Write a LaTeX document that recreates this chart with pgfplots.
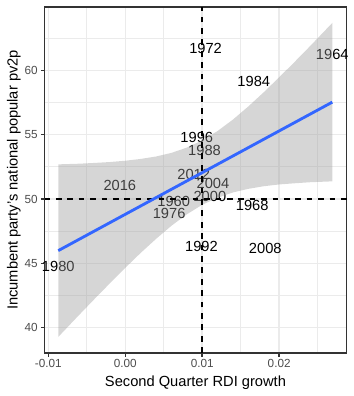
\documentclass[border=0pt]{standalone}
\usepackage{pgfplots}
\pgfplotsset{compat=1.18}
\usepackage{fontspec}
\setmainfont{Liberation Sans}
\definecolor{grey92}{HTML}{EBEBEB}
\definecolor{grey20}{HTML}{333333}
\definecolor{grey30}{HTML}{4D4D4D}
\definecolor{grey60}{HTML}{999999}
\definecolor{smoothblue}{HTML}{3366FF}
\pgfplotstableread{
x y label
0.01044 61.70 1972
0.0269 61.20 1964
0.0167 59.10 1984
0.0093 54.80 1996
0.0103 53.80 1988
0.0089 51.94 2012
0.0114 51.24 2004
-0.0007 51.09 2016
0.0110 50.23 2000
0.0063 49.80 1960
0.0057 48.84 1976
0.0165 49.51 1968
0.0099 46.35 1992
0.0182 46.17 2008
-0.0087 44.80 1980
}\labels
\begin{document}
\begin{tikzpicture}
\begin{axis}[
  set layers,
  scale only axis, width=302bp, height=346bp,
  xmin=-0.01049, xmax=0.02875, ymin=38.04, ymax=64.91,
  xtick={-0.01,0,0.01,0.02},
  xticklabels={-0.01,0.00,0.01,0.02},
  minor xtick={-0.005,0.005,0.015,0.025},
  ytick={40,45,50,55,60},
  minor ytick={42.5,47.5,52.5,57.5,62.5},
  scaled x ticks=false,
  grid=both,
  major grid style={grey92, line width=1.4bp},
  minor grid style={grey92, line width=0.7bp},
  axis line style={grey20, line width=1.4bp},
  tick align=outside, tick pos=left,
  major tick length=3.7bp, minor tick length=0pt,
  major tick style={grey20, line width=1.4bp},
  /pgf/number format/assume math mode=true,
  ticklabel style={font=\fontsize{11.73bp}{13bp}\selectfont, text=grey30},
  xticklabel style={inner sep=0pt, yshift=-2.9bp},
  yticklabel style={inner sep=0pt, xshift=-2.9bp},
  xlabel={Second Quarter RDI growth},
  ylabel={Incumbent party's national popular pv2p},
  label style={font=\fontsize{14.67bp}{16bp}\selectfont},
  xlabel style={at={(axis description cs:0.5,-0.0968)}, anchor=base},
  ylabel style={at={(axis description cs:-0.0894,0.5)}, anchor=base},
]
\coordinate (sw) at (rel axis cs:0,0);
\coordinate (ne) at (rel axis cs:1,1);
% text labels
\addplot[only marks, mark=none, nodes near coords, point meta=explicit symbolic,
  nodes near coords style={anchor=center, inner sep=0pt, text=black, font=\fontsize{14.67bp}{16bp}\selectfont}]
  table[x=x, y=y, meta=label]{\labels};
% confidence ribbon
\addplot[on layer=axis foreground, draw=none, fill=grey60, fill opacity=0.4] coordinates {
(-0.0087,52.69) (-0.006,52.74) (-0.004,52.80) (-0.002,52.87) (0,52.97) (0.002,53.11)
(0.004,53.30) (0.006,53.58) (0.008,53.99) (0.010,54.55) (0.012,55.28) (0.014,56.17)
(0.016,57.19) (0.018,58.29) (0.020,59.45) (0.022,60.64) (0.024,61.86) (0.0269,63.67)
(0.0269,51.37) (0.024,51.30) (0.022,51.22) (0.020,51.13) (0.018,50.99) (0.016,50.79)
(0.014,50.51) (0.012,50.10) (0.010,49.55) (0.008,48.81) (0.006,47.92) (0.004,46.90)
(0.002,45.81) (0,44.65) (-0.002,43.45) (-0.004,42.23) (-0.006,40.99) (-0.0087,39.29)
} -- cycle;
% reference lines
\addplot[on layer=axis foreground, black, line width=1.4bp, dash pattern=on 5.7bp off 5.7bp] coordinates {(-0.01049,50) (0.02875,50)};
\addplot[on layer=axis foreground, black, line width=1.4bp, dash pattern=on 5.7bp off 5.7bp] coordinates {(0.01,38.04) (0.01,64.91)};
% regression line
\addplot[on layer=axis foreground, smoothblue, line width=2.85bp] coordinates {(-0.0087,45.99) (0.0269,57.52)};
\end{axis}
\pgfresetboundingbox
\path ([shift={(-44.5bp,-43bp)}]sw) rectangle ([shift={(7.3bp,7bp)}]ne);
\end{tikzpicture}
\end{document}
